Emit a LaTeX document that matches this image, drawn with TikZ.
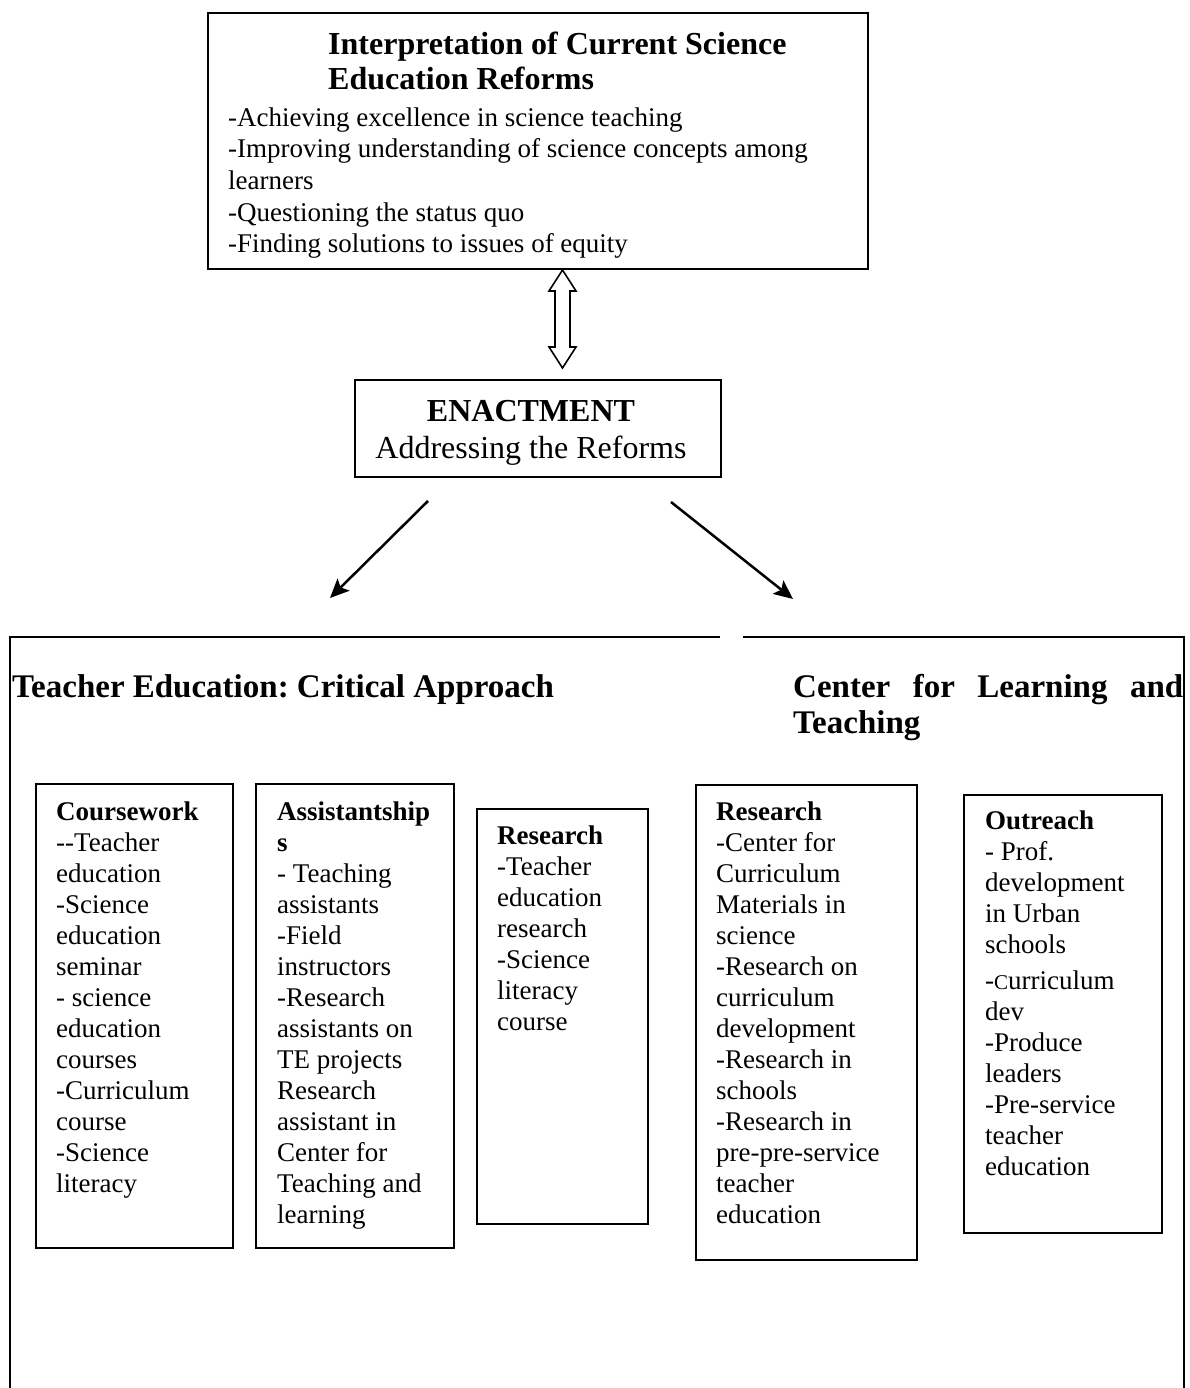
\documentclass[tikz,border=0pt]{standalone}
\usepackage{fontspec}
\setmainfont{Liberation Serif}
\usetikzlibrary{arrows.meta}
\newcommand{\bodyfs}{\fontsize{27}{31}\selectfont}
\frenchspacing
\begin{document}
\begin{tikzpicture}[x=1pt,y=-1pt,
  boxstyle/.style={draw, line width=2pt, inner sep=0pt, anchor=north west},
  txt/.style={anchor=north west, inner sep=0pt, align=left, font=\bodyfs},
  conn/.style={line width=2.5pt, -{Stealth[length=19pt,width=17pt,inset=4pt]}},
  dblarrow/.style={line width=1.6pt, fill=white, line join=miter},
  framestyle/.style={line width=2.5pt}]
\useasboundingbox (0,0) rectangle (1190,1388);

% top box
\node[boxstyle, minimum width=660pt, minimum height=256pt] (top) at (207,12) {};
\node[txt, font=\bfseries\fontsize{32}{35}\selectfont] (toptitle) at (328,29.5)
  {\strut Interpretation of Current Science\\Education Reforms};
\node[txt, font=\fontsize{27}{31.7}\selectfont] (topitems) at (228,103.8)
  {\strut -Achieving excellence in science teaching\\-Improving understanding of science concepts among\\learners\\-Questioning the status quo\\-Finding solutions to issues of equity};

% double arrow
\coordinate (da1) at (562.5,270);
\coordinate (da2) at (562.5,368);
\draw[dblarrow] (da1) -- ++(13.5,21) -- ++(-6,0) -- ++(0,56) -- ++(6,0) -- (da2)
  -- ++(-13.5,-21) -- ++(6,0) -- ++(0,-56) -- ++(-6,0) -- cycle;

% enactment
\node[boxstyle, minimum width=366pt, minimum height=97pt] (enact) at (354,379) {};
\node[anchor=north, inner sep=0pt, align=center, font=\fontsize{32}{37}\selectfont] (enacttxt) at (531,395.1)
  {\strut\textbf{ENACTMENT}\\Addressing the Reforms};

% arrows
\coordinate (l1) at (428,501);
\coordinate (l2) at (330,598);
\coordinate (r1) at (671,502);
\coordinate (r2) at (793,599);
\draw[conn] (l1) -- (l2);
\draw[conn] (r1) -- (r2);

% frame
\coordinate (fa) at (720,637);
\coordinate (fb) at (10,637);
\coordinate (fc) at (10,1395);
\coordinate (fd) at (743,637);
\coordinate (fe) at (1184,637);
\coordinate (ff) at (1184,1395);
\draw[framestyle] (fa) -- (fb) -- (fc);
\draw[framestyle] (fd) -- (fe) -- (ff);

% section titles
\node[txt, font=\bfseries\fontsize{33}{36}\selectfont] (tetitle) at (12,671.8)
  {\strut Teacher Education: Critical Approach};
\node[txt, font=\bfseries\fontsize{33}{36}\selectfont] (cltitle) at (793,671.8)
  {\strut\makebox[390pt][s]{Center for Learning and}\\Teaching};

% inner boxes
\node[boxstyle, minimum width=197pt, minimum height=464pt] (b1) at (35,783) {};
\node[boxstyle, minimum width=198pt, minimum height=464pt] (b2) at (255,783) {};
\node[boxstyle, minimum width=171pt, minimum height=415pt] (b3) at (476,808) {};
\node[boxstyle, minimum width=221pt, minimum height=475pt] (b4) at (695,784) {};
\node[boxstyle, minimum width=198pt, minimum height=438pt] (b5) at (963,794) {};

\node[txt] (t1) at (56,798.3)
  {\strut\textbf{Coursework}\\-{}-Teacher\\education\\-Science\\education\\seminar\\- science\\education\\courses\\-Curriculum\\course\\-Science\\literacy};
\node[txt] (t2) at (277,798.3)
  {\strut\textbf{Assistantship}\\\textbf{s}\\- Teaching\\assistants\\-Field\\instructors\\-Research\\assistants on\\TE projects\\Research\\assistant in\\Center for\\Teaching and\\learning};
\node[txt] (t3) at (497,822.3)
  {\strut\textbf{Research}\\-Teacher\\education\\research\\-Science\\literacy\\course};
\node[txt] (t4) at (716,798.3)
  {\strut\textbf{Research}\\-Center for\\Curriculum\\Materials in\\science\\-Research on\\curriculum\\development\\-Research in\\schools\\-Research in\\pre-pre-service\\teacher\\education};
\node[txt] (t5) at (985,807.3)
  {\strut\textbf{Outreach}\\- Prof.\\development\\in Urban\\schools\\[5pt]-{\fontsize{21}{31}\selectfont C}urriculum\\dev\\-Produce\\leaders\\-Pre-service\\teacher\\education};
\end{tikzpicture}
\end{document}
